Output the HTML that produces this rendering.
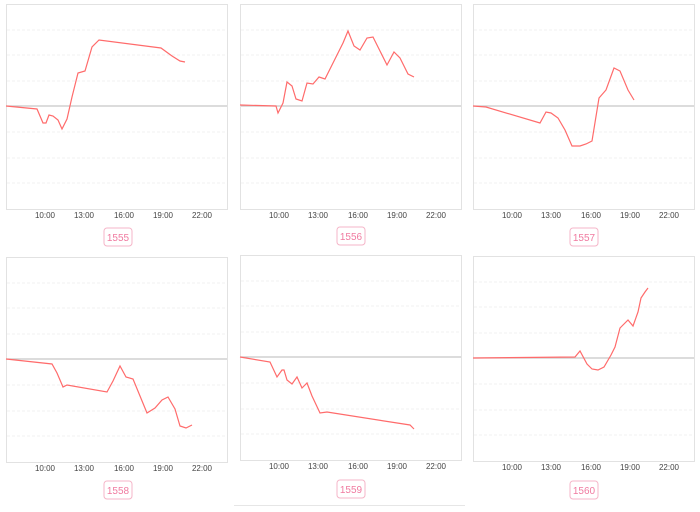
<!DOCTYPE html>
<html><head><meta charset="utf-8"><style>
body{margin:0;background:#fff;width:700px;height:507px;overflow:hidden;font-family:"Liberation Sans",sans-serif}
</style></head><body>
<svg width="700" height="507" xmlns="http://www.w3.org/2000/svg" font-family="Liberation Sans, sans-serif">
<defs>
<g id="grid">
<rect x="0.5" y="0.5" width="221" height="205" fill="#fff" stroke="#e2e2e2"/>
<g stroke="#f0f0f0" stroke-dasharray="3,2">
<line x1="1" x2="221" y1="26" y2="26"/><line x1="1" x2="221" y1="51" y2="51"/><line x1="1" x2="221" y1="77" y2="77"/>
<line x1="1" x2="221" y1="128" y2="128"/><line x1="1" x2="221" y1="154" y2="154"/><line x1="1" x2="221" y1="179" y2="179"/>
</g>
<line x1="1" x2="221" y1="102" y2="102" stroke="#c8c8c8" stroke-width="1.2"/>
<g font-size="8" fill="#444" text-anchor="middle">
<text x="39" y="214">10:00</text><text x="78" y="214">13:00</text><text x="118" y="214">16:00</text><text x="157" y="214">19:00</text><text x="196" y="214">22:00</text>
</g>
</g>
</defs>
<use href="#grid" x="6" y="4"/>
<use href="#grid" x="240" y="4"/>
<use href="#grid" x="473" y="4"/>
<use href="#grid" x="6" y="257"/>
<use href="#grid" x="240" y="255"/>
<use href="#grid" x="473" y="256"/>
<g fill="none" stroke="#ff6b6b" stroke-width="1.2">
<polyline points="6,106 37,109 43,123 46,123 49,115 53,116 58,120 62,129 67,119 72,97 78,73 85,71 92,47 99,40 161,48 172,56 180,61 185,62"/>
<polyline points="240,105 276,106 278,113 283,103 287,82 292,86 296,99 302,101 307,83 313,84 319,77 325,79 331,67 337,55 343,43 348,31 354,46 360,50 367,38 373,37 380,51 387,65 394,52 400,58 404,66 408,74 414,77"/>
<polyline points="473,106 486,107 540,123 546,112 551,113 558,118 565,130 572,146 580,146 586,144 592,141 599,98 606,90 614,68 620,71 628,90 634,100"/>
<polyline points="6,359 52,364 57,373 63,387 67,385 107,392 113,381 120,366 126,377 133,379 140,396 147,413 155,408 162,400 168,397 175,409 180,426 186,428 192,425"/>
<polyline points="240,357 270,362 277,377 282,370 284,370 287,380 292,384 297,377 302,388 307,383 312,396 320,413 327,412 410,425 414,429"/>
<polyline points="473,358 575,357 580,351 587,364 592,369 598,370 604,367 611,355 615,347 620,328 628,320 633,326 638,312 641,298 645,292 648,288"/>
</g>
<g font-size="10" fill="#f07aa0" text-anchor="middle">
<rect x="104" y="228" width="28" height="18" rx="3" fill="#fff" stroke="#f5b5c8"/><text x="118" y="241">1555</text>
<rect x="337" y="227" width="28" height="18" rx="3" fill="#fff" stroke="#f5b5c8"/><text x="351" y="240">1556</text>
<rect x="570" y="228" width="28" height="18" rx="3" fill="#fff" stroke="#f5b5c8"/><text x="584" y="241">1557</text>
<rect x="104" y="481" width="28" height="18" rx="3" fill="#fff" stroke="#f5b5c8"/><text x="118" y="494">1558</text>
<rect x="337" y="480" width="28" height="18" rx="3" fill="#fff" stroke="#f5b5c8"/><text x="351" y="493">1559</text>
<rect x="570" y="481" width="28" height="18" rx="3" fill="#fff" stroke="#f5b5c8"/><text x="584" y="494">1560</text>
</g>
<line x1="234" x2="465" y1="505.5" y2="505.5" stroke="#e6e6e6"/>
</svg>
</body></html>
